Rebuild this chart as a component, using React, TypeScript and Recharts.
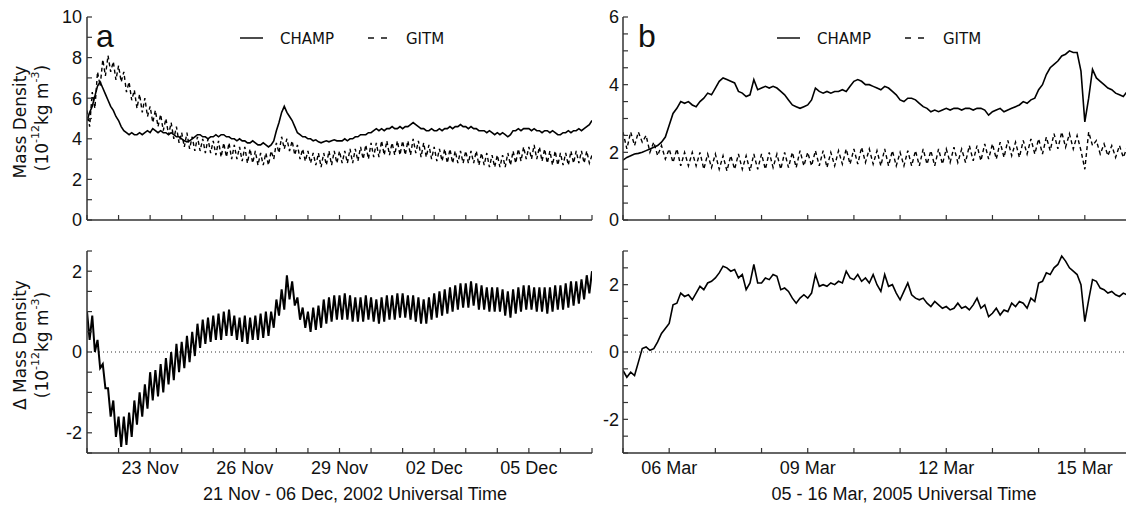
import React from "react";
import { LineChart, Line, XAxis, YAxis, ReferenceLine } from "recharts";

// panel a: 21 Nov 00 UT .. 07 Dec 00 UT 2002, one reading every 2 h
const champA = [
  4.9, 5.3, 5.6, 6.1, 6.6, 6.8, 6.5, 6.2, 5.9, 5.6, 5.4, 5.1,
  4.9, 4.6, 4.4, 4.3, 4.2, 4.3, 4.2, 4.2, 4.3, 4.2, 4.3, 4.4,
  4.3, 4.5, 4.4, 4.3, 4.4, 4.3, 4.3, 4.2, 4.3, 4.2, 4.1, 4.1,
  4.0, 3.9, 3.85, 3.9, 4.0, 4.1, 4.2, 4.2, 4.1, 4.1, 4.0, 4.1,
  4.1, 4.2, 4.1, 4.2, 4.2, 4.1, 4.1, 4.0, 4.0, 3.9, 4.0, 3.9,
  3.9, 3.8, 3.8, 3.9, 3.8, 3.7, 3.7, 3.8, 3.7, 3.6, 3.7, 3.9,
  4.4, 4.8, 5.3, 5.6, 5.3, 5.1, 4.9, 4.6, 4.3, 4.2, 4.1, 4.1,
  4.0, 4.0, 3.9, 3.95, 3.85, 3.8, 3.85, 3.9, 3.85, 3.9, 3.95, 3.9,
  3.9, 3.9, 4.0, 3.9, 4.0, 4.0, 4.1, 4.1, 4.2, 4.2, 4.2, 4.3,
  4.3, 4.4, 4.5, 4.4, 4.5, 4.4, 4.5, 4.5, 4.6, 4.5, 4.5, 4.6,
  4.5, 4.6, 4.6, 4.7, 4.8, 4.7, 4.6, 4.5, 4.5, 4.4, 4.4, 4.5,
  4.4, 4.4, 4.5, 4.4, 4.5, 4.5, 4.6, 4.5, 4.6, 4.6, 4.7, 4.6,
  4.6, 4.5, 4.6, 4.5, 4.5, 4.4, 4.4, 4.4, 4.3, 4.4, 4.3, 4.2,
  4.3, 4.2, 4.3, 4.2, 4.1, 4.2, 4.4, 4.4, 4.5, 4.4, 4.5, 4.5,
  4.5, 4.4, 4.5, 4.4, 4.4, 4.3, 4.4, 4.4, 4.3, 4.4, 4.3, 4.2,
  4.2, 4.3, 4.3, 4.4, 4.3, 4.4, 4.4, 4.5, 4.4, 4.5, 4.6, 4.7,
  4.9,
];

const gitmA = [
  5.4, 4.6, 6.3, 5.5, 7.3, 6.6, 7.9, 7.1, 8.1, 7.3, 7.8, 6.9,
  7.6, 6.8, 7.3, 6.3, 6.8, 5.9, 6.4, 5.5, 6.2, 5.3, 6.0, 5.1,
  5.6, 4.8, 5.4, 4.6, 5.2, 4.4, 5.0, 4.2, 4.8, 4.0, 4.6, 3.8,
  4.3, 3.6, 4.3, 3.5, 4.1, 3.4, 4.1, 3.4, 4.0, 3.3, 4.0, 3.3,
  3.9, 3.2, 3.9, 3.1, 3.8, 3.1, 3.8, 3.0, 3.7, 3.0, 3.6, 2.9,
  3.6, 2.8, 3.5, 2.8, 3.4, 2.7, 3.3, 2.7, 3.3, 2.7, 3.4, 3.0,
  3.8, 3.3, 4.1, 3.5, 4.0, 3.4, 3.9, 3.2, 3.7, 3.0, 3.5, 2.9,
  3.4, 2.8, 3.3, 2.7, 3.3, 2.6, 3.3, 2.7, 3.4, 2.7, 3.4, 2.8,
  3.4, 2.8, 3.4, 2.8, 3.5, 2.8, 3.5, 2.9, 3.6, 3.0, 3.7, 3.0,
  3.8, 3.1, 3.8, 3.1, 3.9, 3.2, 3.9, 3.2, 3.8, 3.2, 3.9, 3.2,
  3.9, 3.2, 3.9, 3.2, 4.0, 3.3, 3.9, 3.1, 3.8, 3.1, 3.7, 3.0,
  3.6, 2.9, 3.5, 2.9, 3.5, 2.8, 3.5, 2.8, 3.4, 2.8, 3.4, 2.8,
  3.4, 2.8, 3.4, 2.8, 3.4, 2.7, 3.3, 2.7, 3.3, 2.6, 3.2, 2.6,
  3.2, 2.6, 3.2, 2.6, 3.3, 2.7, 3.4, 2.8, 3.5, 2.9, 3.6, 3.0,
  3.6, 3.0, 3.7, 3.0, 3.6, 2.9, 3.5, 2.8, 3.4, 2.7, 3.4, 2.7,
  3.3, 2.7, 3.3, 2.7, 3.4, 2.8, 3.4, 2.8, 3.4, 2.8, 3.4, 2.8,
  3.2,
];

const deltaA = [
  1.0, 0.3, 0.9, 0.0, 0.3, -0.4, -0.3, -0.9, -0.9, -1.6, -1.2, -2.1,
  -1.6, -2.35, -1.6, -2.3, -1.5, -2.1, -1.2, -1.8, -1.0, -1.6, -0.8, -1.4,
  -0.5, -1.2, -0.45, -1.1, -0.3, -1.0, -0.15, -0.8, 0.0, -0.7, 0.2, -0.5,
  0.25, -0.4, 0.4, -0.25, 0.5, -0.1, 0.7, 0.1, 0.8, 0.2, 0.85, 0.25,
  0.9, 0.3, 0.95, 0.3, 1.0, 0.4, 1.05, 0.4, 0.9, 0.3, 0.85, 0.25,
  0.9, 0.2, 0.85, 0.3, 0.9, 0.3, 0.95, 0.35, 1.0, 0.4, 1.0, 0.6,
  1.3, 0.9, 1.55, 1.05, 1.9, 1.3, 1.75, 1.15, 1.35, 0.8, 1.1, 0.6,
  1.0, 0.5, 1.1, 0.55, 1.15, 0.6, 1.3, 0.7, 1.35, 0.75, 1.4, 0.8,
  1.4, 0.8, 1.45, 0.8, 1.4, 0.75, 1.35, 0.75, 1.35, 0.75, 1.4, 0.8,
  1.35, 0.75, 1.3, 0.7, 1.35, 0.75, 1.4, 0.8, 1.4, 0.8, 1.45, 0.85,
  1.45, 0.85, 1.4, 0.8, 1.4, 0.75, 1.35, 0.7, 1.3, 0.7, 1.35, 0.8,
  1.45, 0.85, 1.5, 0.9, 1.55, 0.95, 1.6, 1.0, 1.65, 1.05, 1.7, 1.1,
  1.7, 1.1, 1.75, 1.15, 1.7, 1.05, 1.65, 1.05, 1.6, 1.0, 1.6, 1.0,
  1.6, 1.0, 1.55, 0.9, 1.5, 0.85, 1.55, 0.95, 1.6, 1.0, 1.65, 1.05,
  1.65, 1.05, 1.6, 1.0, 1.6, 1.0, 1.6, 0.95, 1.6, 1.0, 1.65, 1.05,
  1.65, 1.05, 1.7, 1.1, 1.75, 1.15, 1.75, 1.2, 1.8, 1.3, 1.9, 1.45,
  2.0,
];

// panel b: 05 Mar 00 UT .. 16 Mar 00 UT 2005, one reading every 2 h
const champB = [
  1.77, 1.85, 1.9, 1.95, 1.97, 2.0, 2.05, 2.1, 2.15, 2.2, 2.3, 2.45,
  2.8, 3.15, 3.3, 3.5, 3.45, 3.5, 3.4, 3.35, 3.5, 3.6, 3.75, 3.7,
  3.9, 4.1, 4.2, 4.15, 4.1, 4.05, 3.8, 3.75, 3.65, 3.7, 4.15, 3.85,
  3.9, 3.95, 3.9, 3.95, 3.9, 3.8, 3.7, 3.55, 3.4, 3.35, 3.3, 3.35,
  3.4, 3.55, 3.9, 3.8, 3.75, 3.8, 3.75, 3.8, 3.8, 3.85, 3.8, 3.95,
  4.1, 4.15, 4.1, 4.0, 4.0, 3.95, 3.9, 3.85, 3.95, 3.9, 3.8, 3.7,
  3.55, 3.5, 3.6, 3.6, 3.55, 3.45, 3.35, 3.3, 3.2, 3.25, 3.2, 3.25,
  3.3, 3.25, 3.3, 3.3, 3.25, 3.3, 3.3, 3.25, 3.3, 3.3, 3.25, 3.1,
  3.2, 3.25, 3.3, 3.2, 3.25, 3.3, 3.35, 3.4, 3.5, 3.45, 3.55, 3.6,
  3.85, 4.0, 4.3, 4.5, 4.6, 4.7, 4.85, 4.9, 5.0, 4.95, 4.95, 4.4,
  2.9, 3.6, 4.45, 4.2, 4.1, 4.0, 3.9, 3.85, 3.75, 3.7, 3.65, 3.8,
  3.9,
];

const gitmB = [
  2.6, 2.1, 2.6, 2.2, 2.6, 2.3, 2.5, 2.0, 2.3, 1.9, 2.2, 1.8,
  2.1, 1.7, 2.1, 1.6, 2.0, 1.6, 2.0, 1.6, 2.0, 1.5, 1.95, 1.55,
  1.95, 1.5, 1.9, 1.45, 1.9, 1.5, 1.95, 1.5, 1.9, 1.45, 1.95, 1.5,
  1.95, 1.5, 2.0, 1.55, 1.95, 1.5, 2.0, 1.55, 2.0, 1.55, 2.05, 1.6,
  2.0, 1.6, 2.05, 1.6, 2.05, 1.55, 2.0, 1.6, 2.05, 1.65, 2.1, 1.65,
  2.1, 1.65, 2.15, 1.7, 2.1, 1.65, 2.05, 1.6, 2.1, 1.6, 2.05, 1.6,
  2.0, 1.6, 2.05, 1.6, 2.05, 1.6, 2.1, 1.65, 2.05, 1.6, 2.1, 1.65,
  2.1, 1.7, 2.15, 1.7, 2.1, 1.7, 2.2, 1.75, 2.2, 1.75, 2.25, 1.8,
  2.25, 1.8, 2.3, 1.85, 2.35, 1.9, 2.3, 1.85, 2.35, 1.95, 2.4, 1.95,
  2.4, 1.95, 2.45, 2.05, 2.55, 2.1, 2.6, 2.15, 2.55, 2.1, 2.5, 2.05,
  1.5, 2.6, 2.2, 2.35, 1.95, 2.25, 1.9, 2.2, 1.85, 2.2, 1.85, 2.15,
  1.9,
];

const deltaB = [
  -0.55, -0.75, -0.6, -0.7, -0.3, 0.1, 0.15, 0.05, 0.1, 0.3, 0.55, 0.7,
  0.85, 1.4, 1.45, 1.75, 1.65, 1.7, 1.55, 1.75, 1.95, 1.85, 2.05, 2.1,
  2.2, 2.35, 2.55, 2.5, 2.4, 2.45, 2.2, 2.3, 1.85, 2.05, 2.6, 2.05,
  2.05, 2.2, 2.15, 2.3, 2.25, 1.85, 1.9, 1.8, 1.6, 1.45, 1.6, 1.7,
  1.6, 1.75, 2.3, 1.95, 2.0, 1.95, 2.05, 2.0, 2.1, 2.05, 2.4, 2.2,
  2.15, 2.3, 2.1, 2.2, 2.05, 2.3, 2.0, 1.8, 2.3, 1.95, 2.0, 1.75,
  1.55, 1.8, 2.05, 1.7, 1.6, 1.55, 1.6, 1.45, 1.35, 1.5, 1.4, 1.3,
  1.35, 1.25, 1.3, 1.45, 1.3, 1.35, 1.25, 1.4, 1.6, 1.3, 1.4, 1.05,
  1.15, 1.3, 1.1, 1.25, 1.2, 1.45, 1.35, 1.5, 1.45, 1.3, 1.6, 1.5,
  2.05, 2.1, 2.35, 2.3, 2.5, 2.6, 2.85, 2.7, 2.5, 2.4, 2.3, 2.0,
  0.9, 1.55, 2.15, 2.1, 1.9, 1.85, 1.75, 1.8, 1.7, 1.65, 1.75, 1.7,
  1.8,
];

// axis ticks (x in days from the first midnight)
const dayTicksA = [0, 1, 2, 3, 4, 5, 6, 7, 8, 9, 10, 11, 12, 13, 14, 15, 16];
const dateTicksA = [2, 5, 8, 11, 14];
const dateLabelsA = ["23 Nov", "26 Nov", "29 Nov", "02 Dec", "05 Dec"];
const dayTicksB = [0, 1, 2, 3, 4, 5, 6, 7, 8, 9, 10, 11];
const dateTicksB = [1, 4, 7, 10];
const dateLabelsB = ["06 Mar", "09 Mar", "12 Mar", "15 Mar"];

const densTicksA = [0, 1, 2, 3, 4, 5, 6, 7, 8, 9, 10];
const densLabelsA = [0, 2, 4, 6, 8, 10];
const densTicksB = [0, 0.5, 1, 1.5, 2, 2.5, 3, 3.5, 4, 4.5, 5, 5.5, 6];
const densLabelsB = [0, 2, 4, 6];
const diffTicksA = [-2.5, -2, -1.5, -1, -0.5, 0, 0.5, 1, 1.5, 2, 2.5];
const diffTicksB = [-3, -2.5, -2, -1.5, -1, -0.5, 0, 0.5, 1, 1.5, 2, 2.5, 3];
const diffLabels = [-2, 0, 2];

const STEP = 1 / 12; // 2 hours in days

const toRows = (champ: number[], gitm: number[], delta: number[]) =>
  champ.map((c, i) => ({ t: i * STEP, champ: c, gitm: gitm[i], delta: delta[i] }));

const rowsA = toRows(champA, gitmA, deltaA);
const rowsB = toRows(champB, gitmB, deltaB);

const SANS = "'Liberation Sans', Arial, sans-serif";
const DEJAVU = "'DejaVu Sans', sans-serif";
const AXIS = "#333";
const axisLine = { stroke: AXIS, strokeWidth: 1.5 };
const tickLine = { stroke: AXIS, strokeWidth: 1.2 };
const tickFont = { fontSize: 18, fontFamily: SANS, fill: "#111" };

interface PanelProps {
  left: number;
  top: number;
  width: number;
  height: number;
  margin: { top: number; right: number; bottom: number; left: number };
  yWidth: number;
  xHeight: number;
  data: any[];
  xDomain: [number, number];
  xTicks: number[];
  xMajor: number[];
  xNames?: string[];
  yDomain: [number, number];
  yTicks: number[];
  yMajor: number[];
  yMargin: number;
  children: React.ReactNode;
}

function Panel(p: PanelProps) {
  const xFmt = (v: number) => {
    const i = p.xMajor.indexOf(v);
    return i >= 0 && p.xNames ? p.xNames[i] : "";
  };
  const yFmt = (v: number) => (p.yMajor.includes(v) ? String(v) : "");
  const blank = () => "";
  return (
    <div style={{ position: "absolute", left: p.left, top: p.top }}>
      <LineChart width={p.width} height={p.height} data={p.data} margin={p.margin}>
        <XAxis
          xAxisId="b"
          type="number"
          dataKey="t"
          domain={p.xDomain}
          ticks={p.xTicks}
          interval={0}
          tickFormatter={xFmt}
          tickSize={-5}
          tickMargin={13}
          height={p.xHeight}
          axisLine={axisLine}
          tickLine={tickLine}
          tick={tickFont}
          allowDataOverflow
        />
        <XAxis
          xAxisId="t"
          orientation="top"
          type="number"
          domain={p.xDomain}
          ticks={p.xTicks}
          interval={0}
          tickFormatter={blank}
          tickSize={-5}
          height={0}
          axisLine={axisLine}
          tickLine={tickLine}
          allowDataOverflow
        />
        <YAxis
          yAxisId="l"
          type="number"
          domain={p.yDomain}
          ticks={p.yTicks}
          interval={0}
          tickFormatter={yFmt}
          tickSize={-5}
          tickMargin={p.yMargin}
          width={p.yWidth}
          axisLine={axisLine}
          tickLine={tickLine}
          tick={tickFont}
          allowDataOverflow
        />
        <YAxis
          yAxisId="r"
          orientation="right"
          type="number"
          domain={p.yDomain}
          ticks={p.yTicks}
          interval={0}
          tickFormatter={blank}
          tickSize={-5}
          width={0}
          axisLine={axisLine}
          tickLine={tickLine}
          allowDataOverflow
        />
        {p.children}
      </LineChart>
    </div>
  );
}

function UnitText({ cx, cy }: { cx: number; cy: number }) {
  return (
    <text
      transform={`translate(${cx},${cy}) rotate(-90)`}
      textAnchor="middle"
      dominantBaseline="central"
      fontSize={17}
      fontFamily={DEJAVU}
      fill="#111"
    >
      (10
      <tspan dy={-7} fontSize={11}>-12</tspan>
      <tspan dy={7}>kg m</tspan>
      <tspan dy={-7} fontSize={11}>-3</tspan>
      <tspan dy={7}>)</tspan>
    </text>
  );
}

function RotText({ cx, cy, text }: { cx: number; cy: number; text: string }) {
  return (
    <text
      transform={`translate(${cx},${cy}) rotate(-90)`}
      textAnchor="middle"
      dominantBaseline="central"
      fontSize={17}
      fontFamily={DEJAVU}
      fill="#111"
    >
      {text}
    </text>
  );
}

function LegendKey({ x, y, gitmX }: { x: number; y: number; gitmX: number }) {
  return (
    <g fontFamily={DEJAVU} fontSize={15} fill="#111">
      <line x1={x} x2={x + 23} y1={y} y2={y} stroke="#111" strokeWidth={1.5} />
      <text x={x + 40} y={y + 5.5}>CHAMP</text>
      <line x1={gitmX} x2={gitmX + 19} y1={y} y2={y} stroke="#111" strokeWidth={1.5} strokeDasharray="6 7" />
      <text x={gitmX + 38} y={y + 5.5}>GITM</text>
    </g>
  );
}

export default function App() {
  const solid = { stroke: "#000", strokeWidth: 1.6, dot: false, isAnimationActive: false };
  return (
    <div
      style={{
        position: "absolute",
        left: 0,
        top: 0,
        width: 1126,
        height: 505,
        overflow: "hidden",
        background: "#fff",
      }}
    >
      {/* a: mass density */}
      <Panel
        left={0}
        top={0}
        width={600}
        height={240}
        margin={{ top: 17, right: 8, bottom: 0, left: 0 }}
        yWidth={87}
        xHeight={20}
        data={rowsA}
        xDomain={[0, 16]}
        xTicks={dayTicksA}
        xMajor={dateTicksA}
        yDomain={[0, 10]}
        yTicks={densTicksA}
        yMajor={densLabelsA}
        yMargin={10}
      >
        <Line xAxisId="b" yAxisId="l" dataKey="gitm" type="linear" strokeDasharray="4 3" {...solid} strokeWidth={1.4} />
        <Line xAxisId="b" yAxisId="l" dataKey="champ" type="linear" {...solid} />
      </Panel>

      {/* a: difference */}
      <Panel
        left={0}
        top={240}
        width={600}
        height={265}
        margin={{ top: 11, right: 8, bottom: 0, left: 0 }}
        yWidth={87}
        xHeight={52}
        data={rowsA}
        xDomain={[0, 16]}
        xTicks={dayTicksA}
        xMajor={dateTicksA}
        xNames={dateLabelsA}
        yDomain={[-2.5, 2.5]}
        yTicks={diffTicksA}
        yMajor={diffLabels}
        yMargin={10}
      >
        <ReferenceLine xAxisId="b" yAxisId="l" y={0} stroke="#333" strokeDasharray="1 3" />
        <Line xAxisId="b" yAxisId="l" dataKey="delta" type="linear" {...solid} strokeWidth={2} />
      </Panel>

      {/* b: mass density */}
      <Panel
        left={600}
        top={0}
        width={540}
        height={240}
        margin={{ top: 17, right: 9, bottom: 0, left: 0 }}
        yWidth={23}
        xHeight={20}
        data={rowsB}
        xDomain={[0, 11]}
        xTicks={dayTicksB}
        xMajor={dateTicksB}
        yDomain={[0, 6]}
        yTicks={densTicksB}
        yMajor={densLabelsB}
        yMargin={9}
      >
        <Line xAxisId="b" yAxisId="l" dataKey="gitm" type="linear" strokeDasharray="4 3" {...solid} strokeWidth={1.4} />
        <Line xAxisId="b" yAxisId="l" dataKey="champ" type="linear" {...solid} />
      </Panel>

      {/* b: difference */}
      <Panel
        left={600}
        top={240}
        width={540}
        height={265}
        margin={{ top: 11, right: 9, bottom: 0, left: 0 }}
        yWidth={23}
        xHeight={52}
        data={rowsB}
        xDomain={[0, 11]}
        xTicks={dayTicksB}
        xMajor={dateTicksB}
        xNames={dateLabelsB}
        yDomain={[-3, 3]}
        yTicks={diffTicksB}
        yMajor={diffLabels}
        yMargin={9}
      >
        <ReferenceLine xAxisId="b" yAxisId="l" y={0} stroke="#333" strokeDasharray="1 3" />
        <Line xAxisId="b" yAxisId="l" dataKey="delta" type="linear" {...solid} />
      </Panel>

      <svg
        width={1126}
        height={505}
        style={{ position: "absolute", left: 0, top: 0, pointerEvents: "none" }}
      >
        <RotText cx={20} cy={122} text="Mass Density" />
        <UnitText cx={42} cy={118} />
        <RotText cx={20} cy={345} text="Δ Mass Density" />
        <UnitText cx={42} cy={345} />

        <text x={96} y={47} fontSize={32} fontFamily={SANS} fill="#111">a</text>
        <text x={638} y={47} fontSize={32} fontFamily={SANS} fill="#111">b</text>

        <LegendKey x={240} y={38} gitmX={368} />
        <LegendKey x={777} y={38} gitmX={905} />

        <text x={355} y={500} textAnchor="middle" fontSize={18} fontFamily={SANS} fill="#111">
          21 Nov - 06 Dec, 2002 Universal Time
        </text>
        <text x={904} y={500} textAnchor="middle" fontSize={18} fontFamily={SANS} fill="#111">
          05 - 16 Mar, 2005 Universal Time
        </text>
      </svg>
    </div>
  );
}
